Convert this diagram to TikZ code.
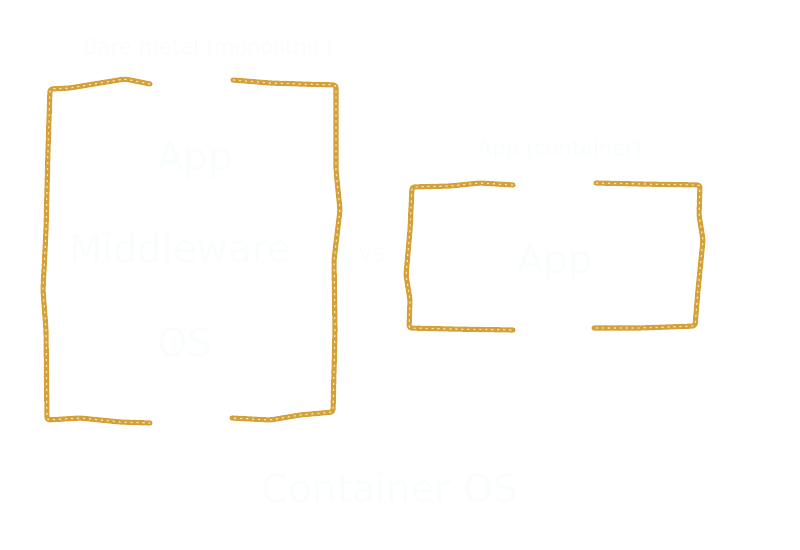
\documentclass[tikz,border=0pt]{standalone}
\usepackage{fontspec}
\setmainfont{DejaVu Sans}
\definecolor{Gold}{HTML}{D4A138}
\definecolor{GoldSoft}{HTML}{F3E2BC}
\definecolor{Chalk}{HTML}{F9FDFD}
\tikzset{
  brace/.style={draw=Gold,line width=2.9pt,line join=round,line cap=round,rounded corners=1.5pt},
  braceink/.style={draw=GoldSoft,line width=0.7pt,dash pattern=on 1.2pt off 2.2pt,rounded corners=1.5pt},
  title/.style={font=\fontsize{12}{14}\selectfont,text=Chalk},
  layer/.style={font=\fontsize{22}{26}\selectfont,text=Chalk},
  small/.style={font=\fontsize{14}{16}\selectfont,text=Chalk}
}
\begin{document}
\begin{tikzpicture}[x=0.02cm,y=-0.02cm]
  \useasboundingbox (0,0) rectangle (800,550);
  % left group
  \draw[brace] (150,84) -- (125,79) -- (100,83) -- (70,88) -- (50,89) -- (48,150) -- (46,230) -- (43,290) -- (46,330) -- (47,420) -- (80,418) -- (120,422) -- (150,423);
  \draw[braceink] (150,84) -- (125,79) -- (100,83) -- (70,88) -- (50,89) -- (48,150) -- (46,230) -- (43,290) -- (46,330) -- (47,420) -- (80,418) -- (120,422) -- (150,423);
  \draw[brace] (233,80) -- (270,83) -- (300,84) -- (336,85) -- (336,170) -- (340,210) -- (334,260) -- (335,330) -- (333,412) -- (300,415) -- (270,420) -- (232,418);
  \draw[braceink] (233,80) -- (270,83) -- (300,84) -- (336,85) -- (336,170) -- (340,210) -- (334,260) -- (335,330) -- (333,412) -- (300,415) -- (270,420) -- (232,418);
  % right group
  \draw[brace] (513,185) -- (480,183) -- (450,186) -- (412,187) -- (410,230) -- (406,275) -- (410,300) -- (409,328) -- (450,329) -- (513,330);
  \draw[braceink] (513,185) -- (480,183) -- (450,186) -- (412,187) -- (410,230) -- (406,275) -- (410,300) -- (409,328) -- (450,329) -- (513,330);
  \draw[brace] (596,183) -- (640,184) -- (700,185) -- (699,215) -- (703,240) -- (698,290) -- (695,326) -- (640,328) -- (594,328);
  \draw[braceink] (596,183) -- (640,184) -- (700,185) -- (699,215) -- (703,240) -- (698,290) -- (695,326) -- (640,328) -- (594,328);
  \node[title] (vmlabel) at (208,48) {Bare metal (monolithic)};
  \node[layer] (vmapp) at (195,160) {App};
  \node[layer] (vmmid) at (180,248) {Middleware};
  \node[layer] (vmos) at (185,342) {OS};
  \node[small] (vs) at (372,255) {vs};
  \node[title] (ctlabel) at (560,150) {App (container)};
  \node[layer] (ctapp) at (555,263) {App};
  \node[layer] (hostos) at (390,488) {Container OS};
\end{tikzpicture}
\end{document}
